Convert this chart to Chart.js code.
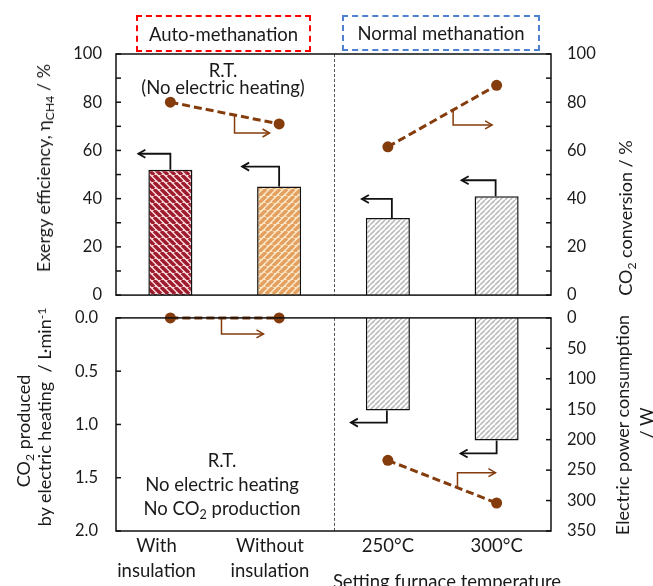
<!DOCTYPE html>
<html>
<head>
<meta charset="utf-8">
<script src="https://cdn.jsdelivr.net/npm/chart.js@4.4.0/dist/chart.umd.min.js"></script>
<style>
body{margin:0;background:#fff;width:653px;height:586px;overflow:hidden;position:relative;font-family:Lato,"Noto Sans",sans-serif;color:#1a1a1a}
canvas{position:absolute;left:0}
.t{position:absolute;font-size:18.5px;line-height:1;white-space:nowrap;transform:translate(-50%,-50%);text-align:center}
.r{transform:translate(-50%,-50%) rotate(-90deg);font-size:18px}
sub{font-size:0.68em;vertical-align:-0.3em;line-height:0}
sup{font-size:0.68em;vertical-align:0.45em;line-height:0}
.box{position:absolute;box-sizing:border-box;border:2px dashed;display:flex;align-items:center;justify-content:center;font-size:18.5px}
</style>
</head>
<body>
<canvas id="c1" width="653" height="321" style="top:0"></canvas>
<canvas id="c2" width="653" height="296" style="top:290px"></canvas>

<div class="box" style="left:136px;top:15px;width:175px;height:37px;border-color:#f00">Auto-methanation</div>
<div class="box" style="left:342px;top:15px;width:198px;height:36px;border-color:#4f81d0">Normal methanation</div>

<div class="t" style="left:223px;top:79px;line-height:17px">R.T.<br>(No electric heating)</div>
<div class="t" style="left:222px;top:484px;line-height:24px">R.T.<br>No electric heating<br>No CO<sub>2</sub> production</div>
<div class="t" style="left:447px;top:581px">Setting furnace temperature</div>

<div class="t r" style="left:43px;top:168px">Exergy efficiency, η<sub>CH4</sub> / %</div>
<div class="t r" style="left:625px;top:218px">CO<sub>2</sub> conversion / %</div>
<div class="t r" style="left:23px;top:431px">CO<sub>2</sub> produced</div>
<div class="t r" style="left:44px;top:417px">by electric heating &nbsp;/ L·min<sup>-1</sup></div>
<div class="t r" style="left:622px;top:425px">Electric power consumption</div>
<div class="t r" style="left:646px;top:423px">/ W</div>

<script>
// values
const categories = [["With\u2002\u2002\u2002", "insulation\u2002\u2002\u2002"], ["Without\u2002\u2002", "insulation\u2002\u2002"], "250°C", "300°C"];
const exergyEff = [52, 45, 32, 41];          // %, left top axis
const co2Conv = [80, 71, 61.5, 87];          // %, right top axis
const co2Produced = [null, null, 0.87, 1.15]; // L/min, left bottom axis
const powerUse = [0, 0, 234, 304];           // W, right bottom axis

const brown = "#843c0c";
const txt = "#1a1a1a";
const fam = "Lato, 'Noto Sans', sans-serif";
const font = {family: fam, size: 16.5};

function stripes(bg, fg, p, w, down) {
	const c = document.createElement("canvas");
	c.width = p; c.height = p;
	const g = c.getContext("2d");
	g.fillStyle = bg;
	g.fillRect(0, 0, p, p);
	g.strokeStyle = fg;
	g.lineWidth = w;
	g.beginPath();
	for (let k = -1; k <= 1; k++) {
		if (down) { g.moveTo(k*p, 0); g.lineTo(k*p + p, p); }
		else { g.moveTo(k*p, p); g.lineTo(k*p + p, 0); }
	}
	g.stroke();
	return g.createPattern(c, "repeat");
}
const patRed = stripes("#f7d9db", "#9e1b2e", 7, 3.4, true);
const patOrange = stripes("#fce8c8", "#e3a060", 7, 3.4, false);
const patGray = stripes("#ffffff", "#bcbcbc", 5, 1.6, false);

function elbow(ctx, x0, y0, y1, x2, color, lw) {
	ctx.save();
	ctx.strokeStyle = color;
	ctx.lineWidth = lw;
	ctx.beginPath();
	ctx.moveTo(x0, y0);
	ctx.lineTo(x0, y1);
	ctx.lineTo(x2, y1);
	ctx.stroke();
	const d = Math.sign(x2 - x0);
	ctx.beginPath();
	ctx.moveTo(x2 - d*7, y1 - 4);
	ctx.lineTo(x2, y1);
	ctx.lineTo(x2 - d*7, y1 + 4);
	ctx.stroke();
	ctx.restore();
}

const frame = {
	id: "frame",
	afterDraw(chart) {
		const {ctx, chartArea: a, scales} = chart;
		const xs = scales.x;
		const sx = Math.round((xs.getPixelForValue(1) + xs.getPixelForValue(2)) / 2) + 0.5;
		ctx.save();
		ctx.strokeStyle = "#555";
		ctx.lineWidth = 1;
		ctx.setLineDash([3, 2]);
		ctx.beginPath();
		ctx.moveTo(sx, a.top);
		ctx.lineTo(sx, a.bottom);
		ctx.stroke();
		ctx.setLineDash([]);
		ctx.strokeStyle = "#111";
		ctx.lineWidth = 1.5;
		ctx.strokeRect(a.left, a.top, a.right - a.left, a.bottom - a.top);
		["y", "y1"].forEach(id => {
			const s = scales[id];
			const left = s.position === "left";
			const x0 = left ? a.left : a.right;
			s.ticks.forEach(t => {
				const py = s.getPixelForValue(t.value);
				ctx.beginPath();
				ctx.moveTo(x0, py);
				ctx.lineTo(x0 + (left ? 5 : -5), py);
				ctx.stroke();
			});
		});
		ctx.restore();
	}
};

const arrows = {
	id: "arrows",
	afterDatasetsDraw(chart, args, opts) {
		const ctx = chart.ctx;
		const bars = chart.getDatasetMeta(opts.barSet).data;
		opts.bar.forEach(b => {
			const el = bars[b.i];
			const x = el.x + b.dx;
			elbow(ctx, x, el.y, el.y + b.dy, x + b.len, "#111", 1.8);
		});
		opts.line.forEach(l => {
			const pts = chart.getDatasetMeta(l.ds).data;
			const p = pts[l.a], q = pts[l.b];
			const x = p.x + (q.x - p.x) * l.t;
			const y = p.y + (q.y - p.y) * l.t;
			elbow(ctx, x, y, y + l.dy, x + l.len, brown, 1.5);
		});
	}
};

function lineSet(values, from, to, axis) {
	return {
		type: "line",
		data: values.map((v, i) => (i >= from && i <= to) ? v : null),
		yAxisID: axis,
		borderColor: brown,
		borderWidth: 3,
		borderDash: [8, 4],
		pointRadius: 5.5,
		pointBackgroundColor: brown,
		pointBorderWidth: 0,
		spanGaps: false,
		clip: false,
		order: 0
	};
}

function yScale(pos, min, max, step, pad, width, reverse, fmt) {
	return {
		position: pos, min: min, max: max, reverse: reverse,
		ticks: {stepSize: step, autoSkip: false, padding: pad, color: txt, font: font, callback: fmt},
		grid: {display: false, drawTicks: false},
		border: {display: false},
		afterFit(s) { s.width = width; }
	};
}

new Chart(document.getElementById("c1"), {
	type: "bar",
	data: {
		labels: categories,
		datasets: [
			lineSet(co2Conv, 0, 1, "y1"),
			lineSet(co2Conv, 2, 3, "y1"),
			{
				type: "bar", data: exergyEff, yAxisID: "y",
				backgroundColor: [patRed, patOrange, patGray, patGray],
				borderColor: "#111", borderWidth: 1.5,
				barPercentage: 0.405, categoryPercentage: 1, order: 1
			}
		]
	},
	options: {
		responsive: false, animation: false,
		layout: {padding: {top: 54, left: 0, right: 0, bottom: 0}},
		plugins: {
			legend: {display: false}, tooltip: {enabled: false},
			arrows: {
				barSet: 2,
				bar: [
					{i: 0, dx: 0, dy: -16, len: -32},
					{i: 1, dx: 0, dy: -20, len: -37},
					{i: 2, dx: 4, dy: -19, len: -30},
					{i: 3, dx: -1, dy: -16, len: -34}
				],
				line: [
					{ds: 0, a: 0, b: 1, t: 0.59, dy: 18, len: 35},
					{ds: 1, a: 2, b: 3, t: 0.6, dy: 15, len: 39}
				]
			}
		},
		scales: {
			x: {display: false, offset: true},
			y: yScale("left", 0, 100, 10, 14, 116, false, v => v % 20 === 0 ? v : ""),
			y1: yScale("right", 0, 100, 10, 16, 102, false, v => v % 20 === 0 ? v : "")
		}
	},
	plugins: [frame, arrows]
});

new Chart(document.getElementById("c2"), {
	type: "bar",
	data: {
		labels: categories,
		datasets: [
			lineSet(powerUse, 0, 1, "y1"),
			lineSet(powerUse, 2, 3, "y1"),
			{
				type: "bar", data: co2Produced, yAxisID: "y",
				backgroundColor: patGray,
				borderColor: "#111", borderWidth: 1.5,
				barPercentage: 0.405, categoryPercentage: 1, order: 1
			}
		]
	},
	options: {
		responsive: false, animation: false,
		layout: {padding: {top: 16, left: 0, right: 0, bottom: 0}},
		plugins: {
			legend: {display: false}, tooltip: {enabled: false},
			arrows: {
				barSet: 2,
				bar: [
					{i: 2, dx: -1, dy: 12, len: -36},
					{i: 3, dx: 0, dy: 13, len: -36}
				],
				line: [
					{ds: 0, a: 0, b: 1, t: 0.47, dy: 16, len: 42},
					{ds: 1, a: 2, b: 3, t: 0.64, dy: -15, len: 38}
				]
			}
		},
		scales: {
			x: {
				offset: true,
				grid: {display: false, drawTicks: false},
				border: {display: false},
				ticks: {padding: 3, autoSkip: false, maxRotation: 0, minRotation: 0, color: txt, font: {family: fam, size: 18.5, lineHeight: 1.35}},
				afterFit(s) { s.height = 55; }
			},
			y: yScale("left", 0, 2, 0.5, 18, 116, true, v => v.toFixed(1)),
			y1: yScale("right", 0, 350, 50, 16, 102, true, v => v)
		}
	},
	plugins: [frame, arrows]
});
</script>
</body>
</html>
